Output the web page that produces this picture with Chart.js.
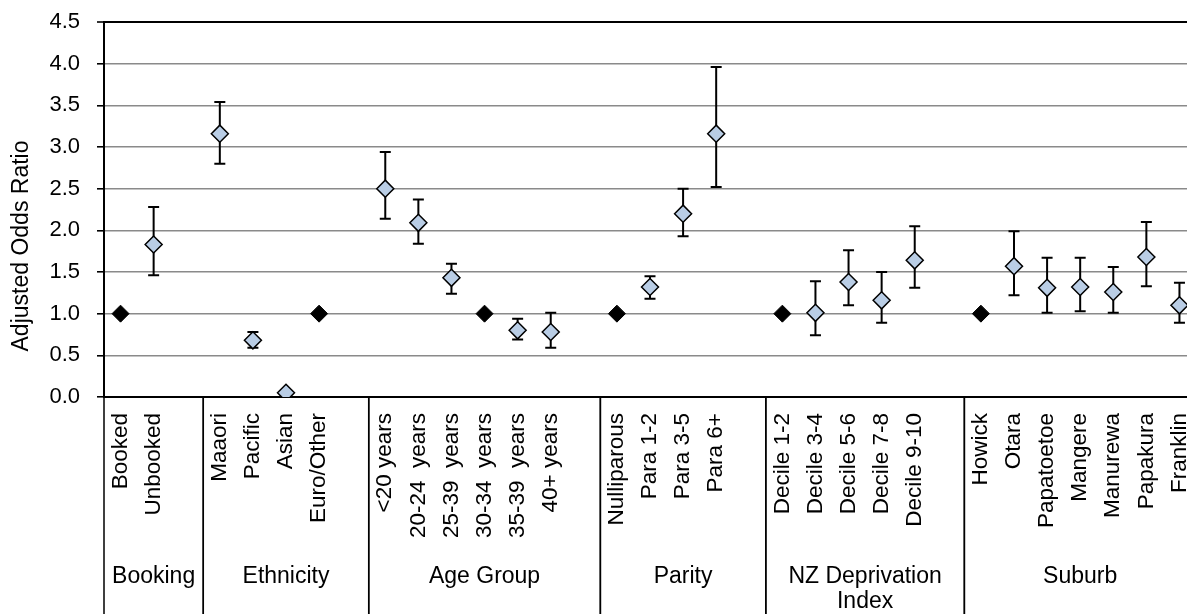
<!DOCTYPE html>
<html>
<head>
<meta charset="utf-8">
<script src="https://cdn.jsdelivr.net/npm/chart.js@4.4.1/dist/chart.umd.min.js"></script>
<style>
  html, body { margin: 0; padding: 0; background: #fff; overflow: hidden; }
  #wrap { width: 1206px; height: 614px; position: relative; }
</style>
</head>
<body>
<div id="wrap"><canvas id="orChart"></canvas></div>
<script>
// Adjusted odds ratios with 95% confidence intervals, one blank slot between groups
const categories = [
    'Booked', 'Unbooked', '',
    'Maaori', 'Pacific', 'Asian', 'Euro/Other', '',
    '<20 years', '20-24  years', '25-39  years', '30-34  years', '35-39  years', '40+ years', '',
    'Nulliparous', 'Para 1-2', 'Para 3-5', 'Para 6+', '',
    'Decile 1-2', 'Decile 3-4', 'Decile 5-6', 'Decile 7-8', 'Decile 9-10', '',
    'Howick', 'Otara', 'Papatoetoe', 'Mangere', 'Manurewa', 'Papakura', 'Franklin'
];

const oddsRatio = [
    1, 1.83, null,
    3.16, 0.68, 0.05, 1, null,
    2.50, 2.09, 1.43, 1, 0.80, 0.78, null,
    1, 1.32, 2.20, 3.16, null,
    1, 1.01, 1.38, 1.16, 1.64, null,
    1, 1.57, 1.31, 1.32, 1.26, 1.68, 1.10
];

const ciLower = [
    null, 1.46, null,
    2.80, 0.59, null, null, null,
    2.14, 1.84, 1.24, null, 0.69, 0.59, null,
    null, 1.18, 1.93, 2.52, null,
    null, 0.74, 1.10, 0.89, 1.31, null,
    null, 1.22, 1.01, 1.03, 1.01, 1.33, 0.89
];

const ciUpper = [
    null, 2.28, null,
    3.54, 0.78, null, null, null,
    2.94, 2.37, 1.60, null, 0.94, 1.01, null,
    null, 1.45, 2.50, 3.96, null,
    null, 1.39, 1.76, 1.50, 2.05, null,
    null, 1.99, 1.67, 1.67, 1.56, 2.10, 1.37
];

// reference category of each group (OR fixed at 1)
const referenceCategories = ['Booked', 'Euro/Other', '30-34  years', 'Nulliparous', 'Decile 1-2', 'Howick'];

// group names under the category labels and how many slots each one covers
const groupLabels = ['Booking', 'Ethnicity', 'Age Group', 'Parity', ['NZ Deprivation', 'Index'], 'Suburb'];
const groupSizes = [3, 5, 7, 5, 6, 7];

const yTicks = [0, 0.5, 1, 1.5, 2, 2.5, 3, 3.5, 4, 4.5];

const FONT = 'Arial, "Liberation Sans", sans-serif';

const refData = oddsRatio.map((v, i) => referenceCategories.includes(categories[i]) ? v : null);
const estData = oddsRatio.map((v, i) => referenceCategories.includes(categories[i]) ? null : v);

// Error bars, drawn under the markers
const errorBars = {
    id: 'errorBars',
    beforeDatasetsDraw(chart) {
        const { ctx, scales: { x, y } } = chart;
        ctx.save();
        ctx.strokeStyle = '#000';
        ctx.lineWidth = 2;
        categories.forEach((c, i) => {
            if (ciLower[i] == null || ciUpper[i] == null) return;
            const px = x.getPixelForValue(i);
            const top = y.getPixelForValue(ciUpper[i]);
            const bot = y.getPixelForValue(ciLower[i]);
            ctx.beginPath();
            ctx.moveTo(px, top);
            ctx.lineTo(px, bot);
            ctx.moveTo(px - 5.5, top);
            ctx.lineTo(px + 5.5, top);
            ctx.moveTo(px - 5.5, bot);
            ctx.lineTo(px + 5.5, bot);
            ctx.stroke();
        });
        ctx.restore();
    }
};

// Group separators, group names and the y axis title
const groupAxis = {
    id: 'groupAxis',
    afterDraw(chart) {
        const { ctx, chartArea, scales: { x } } = chart;
        const band = x.getPixelForValue(1) - x.getPixelForValue(0);
        const bottom = chart.height;
        ctx.save();
        ctx.strokeStyle = '#000';
        ctx.lineWidth = 1.5;
        ctx.fillStyle = '#000';
        ctx.font = '23px ' + FONT;
        ctx.textAlign = 'center';
        ctx.textBaseline = 'middle';
        let start = 0;
        groupSizes.forEach((n, g) => {
            const left = x.getPixelForValue(start) - band / 2;
            const right = x.getPixelForValue(start + n - 1) + band / 2;
            ctx.beginPath();
            ctx.moveTo(left, chartArea.bottom);
            ctx.lineTo(left, bottom);
            ctx.moveTo(right, chartArea.bottom);
            ctx.lineTo(right, bottom);
            ctx.stroke();
            const lines = [].concat(groupLabels[g]);
            lines.forEach((t, k) => ctx.fillText(t, (left + right) / 2, 577 + k * 25));
            start += n;
        });

        ctx.translate(22, 246);
        ctx.rotate(-Math.PI / 2);
        ctx.fillText('Adjusted Odds Ratio', 0, 0);
        ctx.restore();
    }
};

const ctx = document.getElementById('orChart').getContext('2d');
const orChart = new Chart(ctx, {
    type: 'line',
    data: {
        labels: categories,
        datasets: [{
            label: 'Reference',
            data: refData,
            showLine: false,
            pointStyle: 'rectRot',
            pointRadius: 8.5,
            backgroundColor: '#000',
            borderColor: '#000',
            borderWidth: 1
        }, {
            label: 'Adjusted OR',
            data: estData,
            showLine: false,
            pointStyle: 'rectRot',
            pointRadius: 8.5,
            backgroundColor: '#b9cde5',
            borderColor: '#000',
            borderWidth: 1.5
        }]
    },
    options: {
        responsive: true,
        maintainAspectRatio: false,
        animation: false,
        layout: { padding: { top: 22, right: 8, left: 0, bottom: 0 } },
        plugins: {
            legend: { display: false },
            tooltip: { enabled: false }
        },
        scales: {
            x: {
                offset: true,
                grid: { display: false, drawTicks: false },
                border: { display: true, color: '#000', width: 2 },
                ticks: {
                    autoSkip: false,
                    minRotation: 90,
                    maxRotation: 90,
                    padding: 16,
                    color: '#000',
                    font: { family: FONT, size: 22.5 }
                },
                afterFit(scale) {
                    scale.height = 217;
                    scale.paddingLeft = 0;
                    scale.paddingRight = 0;
                    scale.paddingTop = 0;
                    scale.paddingBottom = 0;
                }
            },
            y: {
                min: 0,
                max: 4.5,
                afterBuildTicks(scale) {
                    scale.ticks = yTicks.map(v => ({ value: v }));
                },
                grid: {
                    color: c => (c.tick && (c.tick.value === 4.5 || c.tick.value === 0)) ? '#000' : '#8a8a8a',
                    lineWidth: c => (c.tick && c.tick.value === 4.5) ? 2 : 1.6,
                    tickColor: '#000',
                    tickLength: 7,
                    tickWidth: 1.6
                },
                border: { display: true, color: '#000', width: 2 },
                ticks: {
                    padding: 17,
                    color: '#000',
                    font: { family: FONT, size: 22 },
                    callback: v => Number(v).toFixed(1)
                },
                afterFit(scale) {
                    scale.width = 104;
                    scale.paddingTop = 0;
                    scale.paddingBottom = 0;
                }
            }
        }
    },
    plugins: [errorBars, groupAxis]
});
</script>
</body>
</html>
